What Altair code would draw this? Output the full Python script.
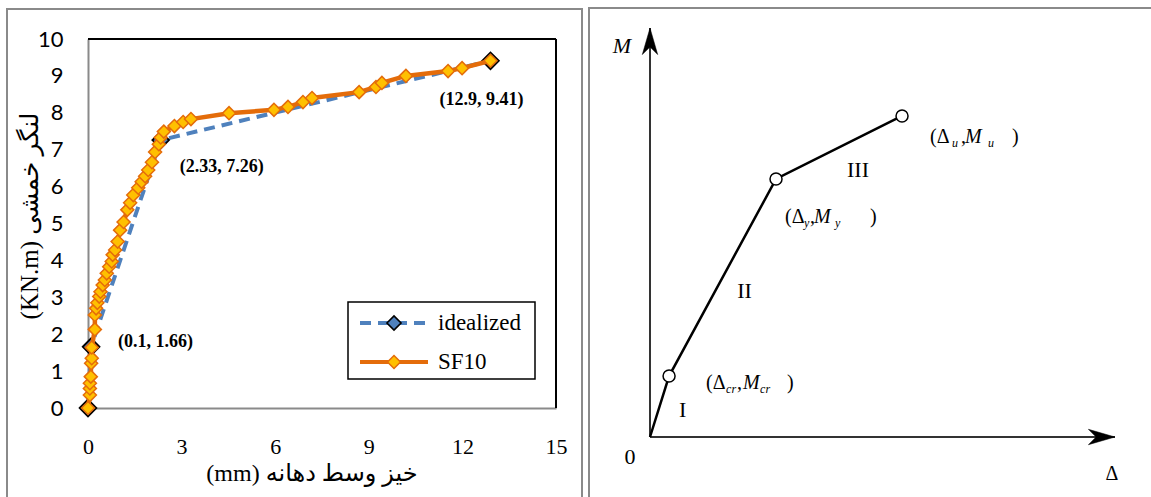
import altair as alt
import pandas as pd

# ---------------- data ----------------
series_names = ["idealized", "SF10"]

ideal_x = [0, 0.1, 2.33, 12.9]
ideal_y = [0, 1.66, 7.26, 9.41]

sf10_x = [0, 0.06, 0.06, 0.06, 0.09, 0.10, 0.12, 0.12, 0.22, 0.22, 0.26, 0.30,
          0.36, 0.40, 0.47, 0.54, 0.60, 0.68, 0.76, 0.79, 0.87, 0.95, 1.03, 1.14,
          1.26, 1.35, 1.45, 1.61, 1.72, 1.83, 1.93, 2.05, 2.15, 2.27, 2.33, 2.43,
          2.77, 3.05, 3.30, 4.52, 5.96, 6.41, 6.89, 7.18, 8.69, 9.23, 9.42, 10.19,
          11.54, 11.99, 12.9]
sf10_y = [0, 0.35, 0.53, 0.67, 0.85, 1.21, 1.35, 1.64, 2.13, 2.52, 2.70, 2.85,
          3.02, 3.15, 3.33, 3.47, 3.65, 3.83, 3.97, 4.15, 4.28, 4.51, 4.82, 5.04,
          5.37, 5.56, 5.77, 5.97, 6.13, 6.28, 6.45, 6.66, 6.94, 7.15, 7.33, 7.49,
          7.64, 7.75, 7.83, 7.99, 8.08, 8.16, 8.29, 8.40, 8.56, 8.70, 8.81, 9.00,
          9.13, 9.21, 9.41]

x_ticks = [0, 3, 6, 9, 12, 15]
y_ticks = [0, 1, 2, 3, 4, 5, 6, 7, 8, 9, 10]
x_title = "(mm) خیز وسط دهانه"
y_title = "(KN.m) لنگر خمشی"

# schematic (right panel), in relative units of its own axes
sch_names = ["0", "cr", "y", "u"]
sch_x = [0, 0.041, 0.271, 0.542]
sch_y = [0, 0.149, 0.631, 0.785]
seg_labels = ["I", "II", "III"]
axis_names = ["M", "Δ"]
axis_x_end = [0, 1]
axis_y_end = [1, 0]

# ---------------- layout / style ----------------
W, H = 468, 369
PAD_L, PAD_T = 88, 39
TOTAL_W, TOTAL_H = 1151, 497
BLUE = "#4F81BD"
ORANGE = "#E46C0A"
GOLD = "#FFC000"
GREY = "#8A8A8A"
SERIF = "Liberation Serif"
SANS = "Lato"
FA = "Liberation Serif, DejaVu Sans"

one = pd.DataFrame({"k": [0]})

# ---------------- left chart ----------------
ideal_df = pd.DataFrame({"x": ideal_x, "y": ideal_y, "i": list(range(len(ideal_x)))})
ideal_df["label"] = [f"({a:g}, {b:g})" for a, b in zip(ideal_x, ideal_y)]
sf_df = pd.DataFrame({"x": sf10_x, "y": sf10_y, "i": list(range(len(sf10_x)))})

xs = alt.Scale(domain=[0, 15], nice=False, zero=False)
ys = alt.Scale(domain=[0, 10], nice=False, zero=False)
x_axis = alt.Axis(values=x_ticks, title=None, grid=False, ticks=False, tickSize=0,
                  labelFont=SERIF, labelFontSize=22, labelColor="black", labelPadding=28,
                  labelFlush=False, labelOverlap=False, domainColor=GREY, domainWidth=2)
y_axis = alt.Axis(values=y_ticks, title=None, grid=False, ticks=False, tickSize=0,
                  labelFont=SANS, labelFontSize=22, labelColor="black", labelPadding=25,
                  labelFlush=False, labelOverlap=False, domainColor=GREY, domainWidth=2)
X = alt.X("x:Q", scale=xs, axis=x_axis)
Y = alt.Y("y:Q", scale=ys, axis=y_axis)

left_layers = []
# outer panel frames
left_layers.append(alt.Chart(one).mark_rect(fill=None, stroke=GREY, strokeWidth=2).encode(
    x=alt.value(7 - PAD_L), x2=alt.value(582 - PAD_L), y=alt.value(9 - PAD_T), y2=alt.value(TOTAL_H + 20 - PAD_T)))
left_layers.append(alt.Chart(one).mark_rect(fill=None, stroke=GREY, strokeWidth=2).encode(
    x=alt.value(589 - PAD_L), x2=alt.value(TOTAL_W + 20 - PAD_L), y=alt.value(8 - PAD_T), y2=alt.value(TOTAL_H + 20 - PAD_T)))
# plot frame (top/right)
left_layers.append(alt.Chart(one).mark_rule(color="black", strokeWidth=2).encode(
    x=alt.value(0), x2=alt.value(W), y=alt.value(0)))
left_layers.append(alt.Chart(one).mark_rule(color="black", strokeWidth=2).encode(
    x=alt.value(W), y=alt.value(0), y2=alt.value(H)))

left_layers.append(alt.Chart(ideal_df).mark_line(color=BLUE, strokeWidth=4, strokeDash=[11, 7]).encode(
    X, Y, order="i:Q"))
left_layers.append(alt.Chart(ideal_df).mark_point(shape="diamond", filled=True, fill=BLUE, stroke="black",
                                                  strokeWidth=1.8, size=280, opacity=1).encode(X, Y))
left_layers.append(alt.Chart(sf_df).mark_line(color=ORANGE, strokeWidth=4.5).encode(X, Y, order="i:Q"))
left_layers.append(alt.Chart(sf_df).mark_point(shape="diamond", filled=True, fill=GOLD, stroke=ORANGE,
                                               strokeWidth=1.5, size=170, opacity=1).encode(X, Y))

label_offsets = {1: (27, -5, "left"), 2: (19, 27, "left"), 3: (-9, 39, "center")}
for i, (dx, dy, al) in label_offsets.items():
    left_layers.append(alt.Chart(ideal_df).transform_filter(alt.datum.i == i).mark_text(
        align=al, baseline="middle", dx=dx, dy=dy, font=SERIF, fontSize=18, fontWeight="bold",
        color="black").encode(X, Y, text="label:N"))

# axis titles
left_layers.append(alt.Chart(one).mark_text(font=FA, fontSize=24, color="black", align="center",
                                            baseline="middle").encode(
    x=alt.value(224), y=alt.value(435), text=alt.value(x_title)))
left_layers.append(alt.Chart(one).mark_text(font=FA, fontSize=25, color="black", align="center",
                                            baseline="middle", angle=270).encode(
    x=alt.value(-58), y=alt.value(177), text=alt.value(y_title)))

# legend
left_layers.append(alt.Chart(one).mark_rect(fill="white", stroke="black", strokeWidth=1.5).encode(
    x=alt.value(260), x2=alt.value(447), y=alt.value(263), y2=alt.value(340)))
legend_rows = [284, 323]
legend_style = {
    "idealized": dict(line=BLUE, dash=[11, 7], fill=BLUE, stroke="black", size=200, sw=1.6),
    "SF10": dict(line=ORANGE, dash=[1, 0], fill=GOLD, stroke=ORANGE, size=170, sw=1.5),
}
for name, yy in zip(series_names, legend_rows):
    st = legend_style[name]
    left_layers.append(alt.Chart(one).mark_rule(color=st["line"], strokeWidth=4, strokeDash=st["dash"]).encode(
        x=alt.value(272), x2=alt.value(340), y=alt.value(yy)))
    left_layers.append(alt.Chart(one).mark_point(shape="diamond", filled=True, fill=st["fill"], stroke=st["stroke"],
                                                 strokeWidth=st["sw"], size=st["size"], opacity=1).encode(
        x=alt.value(306), y=alt.value(yy)))
    left_layers.append(alt.Chart(one).mark_text(font=SERIF, fontSize=23, color="black", align="left",
                                                baseline="middle").encode(
        x=alt.value(350), y=alt.value(yy), text=alt.value(name)))

left = alt.layer(*left_layers)

# ---------------- right schematic ----------------
sch_df = pd.DataFrame({"name": sch_names, "x": sch_x, "y": sch_y, "i": list(range(len(sch_x)))})
axes_df = pd.DataFrame({"name": axis_names, "x0": [0, 0], "y0": [0, 0], "x1": axis_x_end, "y1": axis_y_end})
seg_df = pd.DataFrame({
    "label": seg_labels,
    "x": [(sch_x[k] + sch_x[k + 1]) / 2 for k in range(3)],
    "y": [(sch_y[k] + sch_y[k + 1]) / 2 for k in range(3)],
    "i": [0, 1, 2],
})

sxs = alt.Scale(domain=[0, 1], range=[650 - PAD_L, 1115 - PAD_L], nice=False, zero=False)
sys_ = alt.Scale(domain=[0, 1], range=[437 - PAD_T, 28 - PAD_T], nice=False, zero=False)
SX = alt.X("x:Q", scale=sxs, axis=None)
SY = alt.Y("y:Q", scale=sys_, axis=None)

UP = "M0,0L0.55,1.9L0,1.35L-0.55,1.9Z"
RIGHT = "M0,0L-1.9,-0.55L-1.35,0L-1.9,0.55Z"

right_layers = []
right_layers.append(alt.Chart(axes_df).mark_rule(color="#333333", strokeWidth=2).encode(
    x=alt.X("x0:Q", scale=sxs, axis=None), x2="x1:Q",
    y=alt.Y("y0:Q", scale=sys_, axis=None), y2="y1:Q"))
for nm, shp in zip(axis_names, [UP, RIGHT]):
    right_layers.append(alt.Chart(axes_df).transform_filter(alt.datum.name == nm).mark_point(
        shape=shp, filled=True, fill="black", stroke="black", strokeWidth=0.5, size=784, opacity=1).encode(
        x=alt.X("x1:Q", scale=sxs, axis=None), y=alt.Y("y1:Q", scale=sys_, axis=None)))
right_layers.append(alt.Chart(sch_df).mark_line(color="black", strokeWidth=2.5).encode(SX, SY, order="i:Q"))
right_layers.append(alt.Chart(sch_df).transform_filter(alt.datum.i > 0).mark_point(
    shape="circle", filled=True, fill="white", stroke="black", strokeWidth=1.5, size=144, opacity=1).encode(SX, SY))

# segment numerals
seg_off = [(23, 3), (22, 14), (19, 23)]
for k, (dx, dy) in enumerate(seg_off):
    right_layers.append(alt.Chart(seg_df).transform_filter(alt.datum.i == k).mark_text(
        font=SERIF, fontSize=22, color="black", align="center", baseline="middle", dx=dx, dy=dy).encode(
        SX, SY, text="label:N"))

# point labels (Δ_k, M_k): anchor offset and piece offsets (sub, comma, M, sub, close)
pt_off = {1: (37, 7), 2: (9, 38), 3: (28, 21)}
piece_off = {1: (20, 31, 37, 54, 81), 2: (19, 25, 29, 50, 85), 3: (22, 31, 35, 58, 82)}
for i, (bx, by) in pt_off.items():
    sub = sch_names[i]
    s1, cm, mm, s2, cl = piece_off[i]
    pieces = [
        ("(Δ", 0, 0, 20, "normal"),
        (sub, s1, 6, 12, "italic"),
        (",", cm, 0, 20, "normal"),
        ("M", mm, 0, 20, "italic"),
        (sub, s2, 6, 12, "italic"),
        (")", cl, 0, 20, "normal"),
    ]
    for txt, ox, oy, fs, sty in pieces:
        right_layers.append(alt.Chart(sch_df).transform_filter(alt.datum.i == i).mark_text(
            font=SERIF, fontSize=fs, fontStyle=sty, color="black", align="left", baseline="middle",
            dx=bx + ox, dy=by + oy).encode(SX, SY, text=alt.value(txt)))

# axis names
right_layers.append(alt.Chart(axes_df).transform_filter(alt.datum.name == "M").mark_text(
    font=SERIF, fontSize=22, fontStyle="italic", color="black", align="center", baseline="middle",
    dx=-28, dy=18).encode(x=alt.X("x1:Q", scale=sxs, axis=None), y=alt.Y("y1:Q", scale=sys_, axis=None),
                          text="name:N"))
right_layers.append(alt.Chart(axes_df).transform_filter(alt.datum.name == "Δ").mark_text(
    font=SERIF, fontSize=20, color="black", align="center", baseline="middle",
    dx=-3, dy=37).encode(x=alt.X("x1:Q", scale=sxs, axis=None), y=alt.Y("y1:Q", scale=sys_, axis=None),
                         text="name:N"))
right_layers.append(alt.Chart(sch_df).transform_filter(alt.datum.i == 0).mark_text(
    font=SERIF, fontSize=22, color="black", align="center", baseline="middle",
    dx=-20, dy=20).encode(SX, SY, text="name:N"))

right = alt.layer(*right_layers)

chart = alt.layer(left, right).resolve_scale(x="independent", y="independent").properties(
    width=W, height=H,
    padding={"left": PAD_L, "top": PAD_T, "right": TOTAL_W - PAD_L - W, "bottom": TOTAL_H - PAD_T - H},
    autosize=alt.AutoSizeParams(type="none"),
).configure_view(stroke=None).configure(background="white")

chart.save("out.html", embed_options={"renderer": "svg", "actions": False})
